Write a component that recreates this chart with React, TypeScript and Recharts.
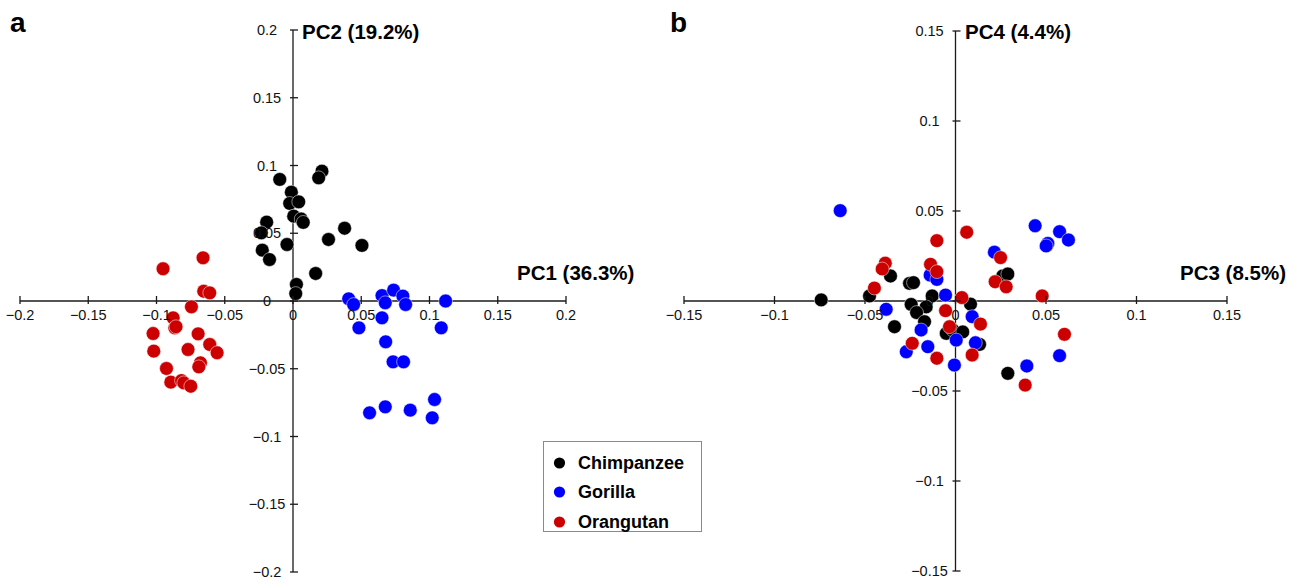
import React from "react";
import { ScatterChart, Scatter, XAxis, YAxis, ReferenceLine, Legend } from "recharts";

// ---------- data ----------
const speciesNames = ["Chimpanzee", "Gorilla", "Orangutan"];
const speciesColors = ["#000000", "#0000ff", "#cc0000"];

// Panel a: PC1 (x) vs PC2 (y)
const chimpanzeePC12 = [
  { x: -0.0097, y: 0.0897 }, { x: 0.0212, y: 0.0958 }, { x: 0.0188, y: 0.0909 },
  { x: -0.0012, y: 0.0803 }, { x: -0.0024, y: 0.072 }, { x: 0.0042, y: 0.0732 },
  { x: 0.0005, y: 0.0626 }, { x: 0.006, y: 0.0605 }, { x: 0.0075, y: 0.058 },
  { x: -0.0193, y: 0.0582 }, { x: -0.0232, y: 0.0503 }, { x: 0.0378, y: 0.0537 },
  { x: 0.026, y: 0.0454 }, { x: 0.0505, y: 0.041 }, { x: -0.0044, y: 0.0417 },
  { x: -0.0225, y: 0.0375 }, { x: -0.0172, y: 0.0306 }, { x: 0.0166, y: 0.0203 },
  { x: 0.0025, y: 0.0122 }, { x: 0.002, y: 0.0055 },
];
const gorillaPC12 = [
  { x: 0.0408, y: 0.0016 }, { x: 0.0444, y: -0.0026 }, { x: 0.0652, y: 0.004 },
  { x: 0.0737, y: 0.008 }, { x: 0.0805, y: 0.0036 }, { x: 0.0676, y: -0.0013 },
  { x: 0.0825, y: -0.0026 }, { x: 0.1118, y: 0.0 }, { x: 0.0652, y: -0.0124 },
  { x: 0.0483, y: -0.0198 }, { x: 0.1086, y: -0.0198 }, { x: 0.0679, y: -0.0301 },
  { x: 0.0733, y: -0.0449 }, { x: 0.081, y: -0.0449 }, { x: 0.1037, y: -0.0727 },
  { x: 0.0561, y: -0.0825 }, { x: 0.0676, y: -0.0781 }, { x: 0.0859, y: -0.0806 },
  { x: 0.102, y: -0.0862 },
];
const orangutanPC12 = [
  { x: -0.0952, y: 0.0238 }, { x: -0.0659, y: 0.0319 }, { x: -0.0654, y: 0.0072 },
  { x: -0.061, y: 0.006 }, { x: -0.0744, y: -0.0043 }, { x: -0.0878, y: -0.0124 },
  { x: -0.0866, y: -0.0198 }, { x: -0.0857, y: -0.019 }, { x: -0.1025, y: -0.024 },
  { x: -0.0695, y: -0.0242 }, { x: -0.061, y: -0.0321 }, { x: -0.0556, y: -0.0382 },
  { x: -0.102, y: -0.037 }, { x: -0.0769, y: -0.0358 }, { x: -0.0678, y: -0.0456 },
  { x: -0.069, y: -0.0486 }, { x: -0.0927, y: -0.0498 }, { x: -0.0895, y: -0.0599 },
  { x: -0.0817, y: -0.0587 }, { x: -0.08, y: -0.0604 }, { x: -0.0749, y: -0.0629 },
];

// Panel b: PC3 (x) vs PC4 (y)
const chimpanzeePC34 = [
  { x: -0.0742, y: 0.0006 }, { x: -0.0475, y: 0.0028 }, { x: -0.0359, y: 0.0139 },
  { x: -0.0254, y: 0.0098 }, { x: -0.0232, y: 0.0102 }, { x: -0.0129, y: 0.0028 },
  { x: -0.0245, y: -0.0019 }, { x: -0.0162, y: -0.0033 }, { x: -0.0215, y: -0.0064 },
  { x: -0.0171, y: -0.0115 }, { x: -0.0337, y: -0.0143 }, { x: -0.0051, y: -0.018 },
  { x: -0.0015, y: -0.0161 }, { x: 0.004, y: -0.0172 }, { x: 0.0083, y: -0.0017 },
  { x: 0.0133, y: -0.0241 }, { x: 0.0261, y: 0.0139 }, { x: 0.0289, y: 0.015 },
  { x: 0.0289, y: -0.0402 },
];
const gorillaPC34 = [
  { x: -0.0637, y: 0.0502 }, { x: -0.0383, y: -0.0046 }, { x: -0.014, y: 0.0144 },
  { x: -0.0103, y: 0.012 }, { x: -0.0055, y: 0.0033 }, { x: -0.019, y: -0.0161 },
  { x: 0.0004, y: -0.0217 }, { x: -0.0153, y: -0.0254 }, { x: -0.0272, y: -0.0282 },
  { x: -0.0006, y: -0.0356 }, { x: 0.0092, y: -0.0087 }, { x: 0.011, y: -0.0232 },
  { x: 0.0215, y: 0.0271 }, { x: 0.044, y: 0.0418 }, { x: 0.0575, y: 0.0385 },
  { x: 0.0624, y: 0.0339 }, { x: 0.051, y: 0.032 }, { x: 0.0501, y: 0.0306 },
  { x: 0.0394, y: -0.0361 }, { x: 0.0575, y: -0.0304 },
];
const orangutanPC34 = [
  { x: -0.0103, y: 0.0335 }, { x: -0.0388, y: 0.021 }, { x: -0.0405, y: 0.0178 },
  { x: -0.0448, y: 0.0072 }, { x: -0.0138, y: 0.0204 }, { x: -0.0103, y: 0.0163 },
  { x: -0.0055, y: -0.0054 }, { x: 0.0035, y: 0.0019 }, { x: -0.0033, y: -0.0143 },
  { x: -0.0239, y: -0.0235 }, { x: -0.0103, y: -0.0318 }, { x: 0.0062, y: 0.0382 },
  { x: 0.0249, y: 0.0241 }, { x: 0.0219, y: 0.0107 }, { x: 0.028, y: 0.0079 },
  { x: 0.0479, y: 0.0028 }, { x: 0.0138, y: -0.0128 }, { x: 0.0092, y: -0.03 },
  { x: 0.0602, y: -0.0185 }, { x: 0.0385, y: -0.0467 },
];

const ticksA = [-0.2, -0.15, -0.1, -0.05, 0, 0.05, 0.1, 0.15, 0.2];
const ticksB = [-0.15, -0.1, -0.05, 0, 0.05, 0.1, 0.15];
const axisTitlesA = ["PC1 (36.3%)", "PC2 (19.2%)"];
const axisTitlesB = ["PC3 (8.5%)", "PC4 (4.4%)"];
const panelLetters = ["a", "b"];

// ---------- styling ----------
const FONT = "'Liberation Sans', Arial, Helvetica, sans-serif";
const AXIS = "#1a1a1a";
const TICK_FS = 14.5;

const fmt = (v: number) => (v < 0 ? "\u2212" + String(-v) : String(v));

const makeXTick = (halfH: number) => (props: any) => {
  const { x, y, payload } = props;
  const oy = y - halfH;
  return (
    <g>
      <line x1={x} x2={x} y1={oy - 5} y2={oy + 3} stroke={AXIS} strokeWidth={1.3} />
      <text x={x} y={oy + 14} textAnchor="middle" dominantBaseline="central" fontSize={TICK_FS} fontFamily={FONT} fill="#111">
        {fmt(payload.value)}
      </text>
    </g>
  );
};

const makeYTick = (halfW: number) => (props: any) => {
  const { x, y, payload } = props;
  const ox = x + halfW;
  return (
    <g>
      <line x1={ox - 3} x2={ox + 5} y1={y} y2={y} stroke={AXIS} strokeWidth={1.3} />
      <text x={ox - 26} y={y} textAnchor="middle" dominantBaseline="central" fontSize={TICK_FS} fontFamily={FONT} fill="#111">
        {fmt(payload.value)}
      </text>
    </g>
  );
};

const makeDot = (color: string) => (p: any) => (
  <circle cx={p.cx} cy={p.cy} r={6.9} fill={color} stroke="#ffffff" strokeWidth={0.5} />
);

const renderLegend = (props: any) => {
  const { payload } = props;
  return (
    <div
      style={{
        boxSizing: "border-box",
        width: 159,
        height: 91,
        border: "1px solid #8a8a8a",
        background: "#fff",
        paddingTop: 6,
        fontFamily: FONT,
      }}
    >
      {(payload || []).map((entry: any, i: number) => (
        <div key={i} style={{ display: "flex", alignItems: "center", height: 29.5 }}>
          <svg width={34} height={20} style={{ display: "block" }}>
            <circle cx={15.5} cy={10} r={5.6} fill={entry.color} />
          </svg>
          <span style={{ fontSize: 18, fontWeight: "bold", color: "#000", lineHeight: 1 }}>{entry.value}</span>
        </div>
      ))}
    </div>
  );
};

type PanelProps = {
  left: number;
  width: number;
  margin: { top: number; right: number; bottom: number; left: number };
  domain: [number, number];
  ticks: number[];
  series: { x: number; y: number }[][];
  withLegend?: boolean;
};

// axes reserve 1px each (an axis of size 0 is not drawn by recharts)
const Panel = ({ left, width, margin, domain, ticks, series, withLegend }: PanelProps) => {
  const height = 585;
  const plotW = width - margin.left - margin.right - 1;
  const plotH = height - margin.top - margin.bottom - 1;
  return (
    <div style={{ position: "absolute", left, top: 0, width, height }}>
      <ScatterChart width={width} height={height} margin={margin}>
        <XAxis
          type="number"
          dataKey="x"
          domain={domain}
          ticks={ticks}
          interval={0}
          allowDataOverflow
          height={1}
          tickSize={0}
          tickMargin={0}
          axisLine={false}
          tickLine={false}
          tick={makeXTick(plotH / 2)}
        />
        <YAxis
          type="number"
          dataKey="y"
          domain={domain}
          ticks={ticks}
          interval={0}
          allowDataOverflow
          width={1}
          tickSize={0}
          tickMargin={0}
          axisLine={false}
          tickLine={false}
          tick={makeYTick(plotW / 2)}
        />
        <ReferenceLine x={0} stroke={AXIS} strokeWidth={1.3} />
        <ReferenceLine y={0} stroke={AXIS} strokeWidth={1.3} />
        {series.map((data, i) => (
          <Scatter
            key={speciesNames[i]}
            name={speciesNames[i]}
            data={data}
            fill={speciesColors[i]}
            shape={makeDot(speciesColors[i])}
            isAnimationActive={false}
          />
        ))}
        {withLegend && (
          <Legend
            layout="vertical"
            align="center"
            verticalAlign="middle"
            wrapperStyle={{ left: 543, top: 441, width: 159, height: 91 }}
            content={renderLegend}
          />
        )}
      </ScatterChart>
    </div>
  );
};

const titleStyle: React.CSSProperties = {
  position: "absolute",
  fontFamily: FONT,
  fontWeight: "bold",
  fontSize: 20.5,
  lineHeight: "21px",
  color: "#000",
  whiteSpace: "nowrap",
};

const letterStyle: React.CSSProperties = {
  position: "absolute",
  fontFamily: FONT,
  fontWeight: "bold",
  fontSize: 28,
  lineHeight: "28px",
  color: "#000",
};

export default function App() {
  return (
    <div style={{ position: "absolute", left: 0, top: 0, width: 1306, height: 585, background: "#fff", overflow: "hidden" }}>
      <Panel
        left={0}
        width={640}
        margin={{ top: 30, right: 74, bottom: 12, left: 19 }}
        domain={[-0.2, 0.2]}
        ticks={ticksA}
        series={[chimpanzeePC12, gorillaPC12, orangutanPC12]}
        withLegend
      />
      <Panel
        left={640}
        width={640}
        margin={{ top: 31, right: 53, bottom: 13, left: 43 }}
        domain={[-0.15, 0.15]}
        ticks={ticksB}
        series={[chimpanzeePC34, gorillaPC34, orangutanPC34]}
      />
      <div style={{ ...letterStyle, left: 10, top: 9 }}>{panelLetters[0]}</div>
      <div style={{ ...letterStyle, left: 670, top: 9 }}>{panelLetters[1]}</div>
      <div style={{ ...titleStyle, left: 517, top: 261.5 }}>{axisTitlesA[0]}</div>
      <div style={{ ...titleStyle, left: 302, top: 21 }}>{axisTitlesA[1]}</div>
      <div style={{ ...titleStyle, left: 1180, top: 261.5 }}>{axisTitlesB[0]}</div>
      <div style={{ ...titleStyle, left: 965, top: 21 }}>{axisTitlesB[1]}</div>
    </div>
  );
}
